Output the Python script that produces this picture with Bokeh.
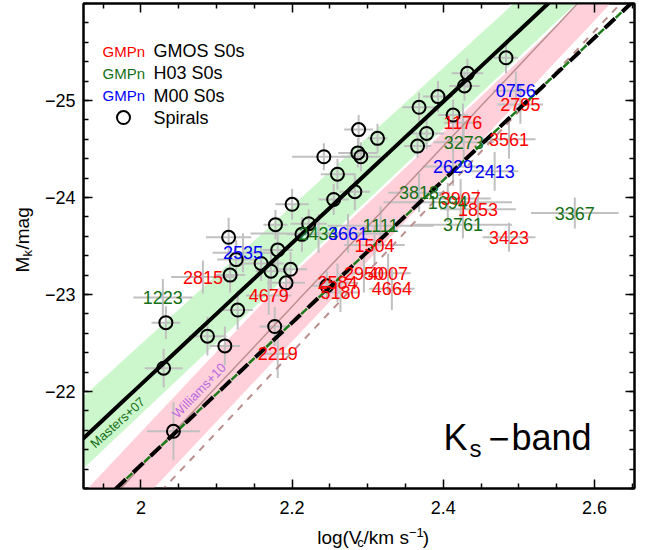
import numpy as np
from bokeh.plotting import figure
from bokeh.layouts import row, column
from bokeh.models import (ColumnDataSource, FixedTicker, LinearAxis, Label,
                          CustomJSTickFormatter)
from bokeh.core.properties import value
from bokeh.embed import file_html
from bokeh.resources import INLINE

FONT = "Liberation Sans"

# ---------------- data ----------------
# Spiral galaxies (open circles)
sp_logv = [2.483, 2.432, 2.428, 2.393, 2.368, 2.413, 2.378, 2.366, 2.288, 2.313,
           2.242, 2.287, 2.291, 2.260, 2.283, 2.255, 2.200, 2.178, 2.222, 2.213,
           2.116, 2.181, 2.126, 2.159, 2.172, 2.198, 2.118, 2.192, 2.128, 2.088,
           2.111, 2.177, 2.033, 2.030, 2.043, 2.246]
sp_mk = [-25.44, -25.28, -25.15, -25.04, -24.93, -24.85, -24.66, -24.53, -24.70, -24.61,
         -24.42, -24.46, -24.42, -24.24, -24.06, -23.98, -23.93, -23.72, -23.73, -23.62,
         -23.59, -23.46, -23.36, -23.32, -23.24, -23.26, -23.20, -23.12, -22.84, -22.57,
         -22.47, -22.67, -22.71, -22.24, -21.59, -23.09]
sp_xerr = [0.016, 0.021, 0.020, 0.020, 0.022, 0.020, 0.023, 0.018, 0.019, 0.013,
           0.042, 0.026, 0.026, 0.022, 0.020, 0.020, 0.022, 0.016, 0.024, 0.020,
           0.030, 0.020, 0.025, 0.030, 0.020, 0.022, 0.020, 0.025, 0.020, 0.025,
           0.020, 0.020, 0.019, 0.025, 0.035, 0.020]
sp_yerr = [0.16, 0.15, 0.15, 0.16, 0.15, 0.16, 0.16, 0.12, 0.15, 0.15,
           0.14, 0.15, 0.15, 0.16, 0.19, 0.16, 0.16, 0.15, 0.15, 0.18,
           0.20, 0.20, 0.20, 0.18, 0.20, 0.18, 0.18, 0.20, 0.20, 0.20,
           0.20, 0.20, 0.17, 0.20, 0.30, 0.15]

# GMOS S0s (red labels)
gmos_name = ["2795", "1176", "3561", "3907", "1853", "3423", "1504", "2950",
             "4007", "4664", "2584", "5180", "4679", "2815", "2219"]
gmos_logv = [2.502, 2.426, 2.487, 2.423, 2.446, 2.487, 2.309, 2.295,
             2.327, 2.332, 2.260, 2.264, 2.169, 2.082, 2.181]
gmos_mk = [-24.96, -24.77, -24.60, -23.99, -23.88, -23.59, -23.51, -23.22,
           -23.22, -23.06, -23.12, -23.02, -22.99, -23.18, -22.39]
gmos_xerr = [0.030, 0.025, 0.035, 0.040, 0.050, 0.035, 0.040, 0.030,
             0.030, 0.030, 0.025, 0.025, 0.030, 0.042, 0.025]
gmos_yerr = [0.20, 0.20, 0.20, 0.20, 0.20, 0.15, 0.20, 0.20,
             0.20, 0.22, 0.20, 0.20, 0.20, 0.17, 0.25]

# H03 S0s (green labels)
h03_name = ["3273", "3818", "1694", "3761", "3367", "1111", "2434", "1223"]
h03_logv = [2.427, 2.368, 2.406, 2.426, 2.574, 2.317, 2.235, 2.029]
h03_mk = [-24.57, -24.05, -23.95, -23.72, -23.84, -23.71, -23.63, -22.97]
h03_xerr = [0.040, 0.041, 0.085, 0.065, 0.058, 0.070, 0.090, 0.039]
h03_yerr = [0.20, 0.20, 0.20, 0.14, 0.16, 0.20, 0.20, 0.19]

# M00 S0s (blue labels)
m00_name = ["0756", "2629", "2413", "2535", "3661"]
m00_logv = [2.496, 2.413, 2.468, 2.135, 2.274]
m00_mk = [-25.10, -24.32, -24.27, -23.43, -23.63]
m00_xerr = [0.030, 0.040, 0.031, 0.040, 0.030]
m00_yerr = [0.20, 0.20, 0.20, 0.20, 0.20]

# Relations: M = zp + slope * (logV - 2.2)
masters = (-23.53, -7.29)
masters_band_hi = (-23.93, -7.12)
masters_band_lo = (-23.22, -7.36)
williams = (-22.876, -8.27)
williams_scatter = 0.36
williams_s0_offset = 0.47
fit_dashed = (-22.71, -7.34)

X_RANGE = (1.924, 2.653)
Y_RANGE = (-21.0, -26.0)


def rel(p, x, shift=0.0):
    return p[0] + shift + p[1] * (np.asarray(x) - 2.2)


# ---------------- main panel ----------------
p = figure(width=606, height=522, x_range=X_RANGE, y_range=Y_RANGE,
           output_backend="svg", toolbar_location=None,
           min_border_left=43, min_border_right=12, min_border_top=3,
           min_border_bottom=34, x_axis_location=None, y_axis_location=None)
p.grid.visible = False
p.outline_line_color = "black"
p.outline_line_width = 2
p.background_fill_color = "white"
p.border_fill_color = "white"

xs = np.linspace(X_RANGE[0] - 0.05, X_RANGE[1] + 0.05, 50)

# bands
p.varea(x=xs, y1=rel(williams, xs, -williams_scatter), y2=rel(williams, xs, williams_scatter),
        fill_color="#ffd0da", fill_alpha=1)
gx = np.concatenate([xs, xs[::-1]])
gy = np.concatenate([rel(masters_band_hi, xs), rel(masters_band_lo, xs)[::-1]])
p.patch(gx, gy, fill_color="#ccf7cc", line_color="white", line_width=2.5)

# error bars
GREY = "#c0c0c0"
for lx, my, ex, ey in [(sp_logv, sp_mk, sp_xerr, sp_yerr),
                       (gmos_logv, gmos_mk, gmos_xerr, gmos_yerr),
                       (h03_logv, h03_mk, h03_xerr, h03_yerr),
                       (m00_logv, m00_mk, m00_xerr, m00_yerr)]:
    lx = np.array(lx); my = np.array(my); ex = np.array(ex); ey = np.array(ey)
    p.segment(x0=lx - ex, x1=lx + ex, y0=my, y1=my, line_color=GREY, line_width=2)
    p.segment(x0=lx, x1=lx, y0=my - ey, y1=my + ey, line_color=GREY, line_width=2)

# relation lines
p.line(xs, rel(williams, xs), line_color="#bc8f8f", line_width=1.5)
p.line(xs, rel(williams, xs, williams_s0_offset), line_color="#bc8f8f", line_width=2,
       line_dash="7 7")
p.line(xs, rel(fit_dashed, xs), line_color="black", line_width=4, line_dash="14 10")
p.line(xs, rel(fit_dashed, xs), line_color="#1a7a1a", line_width=2.5,
       line_dash="8 16", line_dash_offset=-15)
p.line(xs, rel(masters, xs), line_color="black", line_width=4)

# spirals
p.scatter(sp_logv, sp_mk, marker="circle", size=13, fill_color=None,
          line_color="black", line_width=2)


def labels(names, lx, my, color):
    src = ColumnDataSource(dict(x=lx, y=my, t=names))
    p.text(x="x", y="y", text="t", source=src, text_color=color,
           text_font=value(FONT), text_font_size="18px",
           text_align="center", text_baseline="middle")


labels(gmos_name, gmos_logv, gmos_mk, "#ff0000")
labels(h03_name, h03_logv, h03_mk, "#157015")
labels(m00_name, m00_logv, m00_mk, "#0000ff")

# relation names (rotated)
p.text(x=[1.969], y=[-21.68], text=["Masters+07"], angle=0.735,
       text_color="#157015", text_font=value(FONT), text_font_size="13px",
       text_align="center", text_baseline="middle")
p.text(x=[2.077], y=[-22.01], text=["Williams+10"], angle=0.80,
       text_color="#b86ae0", text_font=value(FONT), text_font_size="13px",
       text_align="center", text_baseline="middle")

# axes with inward ticks on all sides
x_major = [2.0, 2.2, 2.4, 2.6]
x_minor = [1.95, 2.05, 2.1, 2.15, 2.25, 2.3, 2.35, 2.45, 2.5, 2.55, 2.65]
y_major = [-25, -24, -23, -22]
y_minor = [round(-26 + 0.2 * i, 1) for i in range(26)]

xfmt = CustomJSTickFormatter(code="return Math.abs(tick-2)<1e-9 ? '2' : tick.toFixed(1);")
yfmt = CustomJSTickFormatter(code="return (tick<0?'\u2212':'') + Math.abs(tick).toFixed(0);")
nofmt = CustomJSTickFormatter(code="return '';")


def style_axis(ax, standoff):
    ax.major_tick_in = 9
    ax.major_tick_out = 0
    ax.minor_tick_in = 5
    ax.minor_tick_out = 0
    ax.axis_line_width = 2
    ax.major_tick_line_width = 1.5
    ax.minor_tick_line_width = 1.5
    ax.major_label_text_font = FONT
    ax.major_label_text_font_size = "18px"
    ax.major_label_text_color = "black"
    ax.major_label_standoff = standoff


for loc, fmt, so in [("below", xfmt, 12), ("above", nofmt, 0)]:
    ax = LinearAxis(ticker=FixedTicker(ticks=x_major, minor_ticks=x_minor), formatter=fmt)
    style_axis(ax, so)
    p.add_layout(ax, loc)
for loc, fmt, so in [("left", yfmt, 8), ("right", nofmt, 0)]:
    ax = LinearAxis(ticker=FixedTicker(ticks=y_major, minor_ticks=y_minor), formatter=fmt)
    style_axis(ax, so)
    p.add_layout(ax, loc)


def lab(x, y, t, size, color="black"):
    # screen units relative to the frame's bottom-left; y is the text's middle
    p.add_layout(Label(x=x, y=y, x_units="screen", y_units="screen", text=t,
                       text_font=FONT, text_font_size=size, text_color=color,
                       text_baseline="middle", text_align="left"))


# legend
lab(19, 437.5, "GMPn", "15px", color="#ff0000")
lab(70, 437.5, "GMOS S0s", "18px")
lab(19, 415.5, "GMPn", "15px", color="#157015")
lab(70, 415.5, "H03 S0s", "18px")
lab(19, 393, "GMPn", "15px", color="#0000ff")
lab(70, 393, "M00 S0s", "18px")
lab(70, 371, "Spirals", "18px")
leg_x = X_RANGE[0] + (122.7 - 82.7) / 756.0
leg_y = Y_RANGE[1] + (117.3 - 3) / 97.2
p.scatter([leg_x], [leg_y], marker="circle", size=13, fill_color=None,
          line_color="black", line_width=2)

# Ks-band label
lab(360, 51, "K", "36px")
lab(386, 40, "s", "24px")
lab(405, 51, "\u2212", "36px")
lab(428, 51, "band", "36px")


# ---------------- axis-title panels (for sub/superscripts) ----------------
def blank(w, h):
    f = figure(width=w, height=h, x_range=(0, w), y_range=(0, h),
               output_backend="svg", toolbar_location=None,
               min_border_left=0, min_border_right=0, min_border_top=0,
               min_border_bottom=0, x_axis_location=None, y_axis_location=None)
    f.grid.visible = False
    f.outline_line_color = None
    f.background_fill_color = "white"
    f.border_fill_color = "white"
    return f


def txt(f, x, y, t, size, angle=0.0):
    f.text(x=[x], y=[y], text=[t], angle=angle, text_color="black",
           text_font=value(FONT), text_font_size=size,
           text_align="left", text_baseline="middle")


# y title: M_k/mag  (panel covers page x 0..40, y 0..550; y measured upward)
ylab = blank(40, 550)
txt(ylab, 22, 278, "M", "19px", angle=np.pi / 2)
txt(ylab, 27, 294, "k", "13px", angle=np.pi / 2)
txt(ylab, 22, 301, "/mag", "19px", angle=np.pi / 2)

# x title: log(V_c/km  s^-1)  (panel covers page x 40..646, y 522..550)
xlab = blank(606, 28)
txt(xlab, 257, 13.5, "log(V", "19px")
txt(xlab, 301, 8.5, "c", "13px")
txt(xlab, 308, 13.5, "/km  s", "19px")
txt(xlab, 358, 18.5, "\u22121", "13px")
txt(xlab, 373, 13.5, ")", "19px")

layout = row(ylab, column(p, xlab, spacing=0), spacing=0)
open("out.html", "w").write(file_html(layout, INLINE))
